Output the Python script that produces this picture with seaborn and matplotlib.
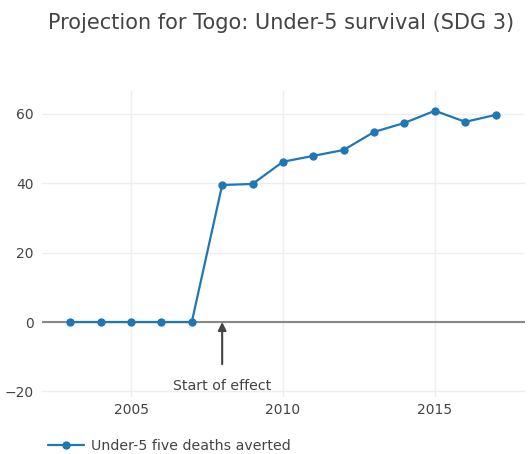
import pandas as pd
import numpy as np
import matplotlib.pyplot as plt
import seaborn as sns

sns.set_style("white")
plt.rcParams["font.family"] = ["DejaVu Sans"]

years = [2003, 2004, 2005, 2006, 2007, 2008, 2009, 2010, 2011, 2012, 2013, 2014, 2015, 2016, 2017]
deaths_averted = [0, 0, 0, 0, 0, 39.5, 39.8, 46.2, 47.9, 49.6, 54.8, 57.4, 60.9, 57.7, 59.7]
series_name = "Under-5 five deaths averted"

df = pd.DataFrame({"Year": years, series_name: deaths_averted})

fig = plt.figure(figsize=(5.28, 4.54), dpi=100)
ax = fig.add_axes([0.0795, 0.1256, 0.9145, 0.674])

sns.lineplot(data=df, x="Year", y=series_name, ax=ax, color="#1f77b4",
             linewidth=1.6, marker="o", markersize=6, markeredgewidth=0,
             label=series_name, zorder=3)

ax.set_xlim(2002.07, 2017.96)
ax.set_ylim(-21.6, 66.6)
ax.set_xticks([2005, 2010, 2015])
ax.set_yticks([-20, 0, 20, 40, 60])
ax.set_yticklabels(["\u221220", "0", "20", "40", "60"])
ax.grid(True, color="#eeeeee", linewidth=1)
ax.axhline(0, color="#888888", linewidth=1.5, zorder=2)
for s in ax.spines.values():
    s.set_visible(False)
ax.tick_params(axis="x", pad=4)
ax.tick_params(axis="y", pad=6)
ax.tick_params(axis="both", length=0, labelsize=10, labelcolor="#444444")
ax.set_xlabel("")
ax.set_ylabel("")

# annotation for the start of the effect
ax.annotate("Start of effect", xy=(2008, 0), xytext=(2008, -18.3),
            ha="center", va="center", fontsize=10.2, color="#444444",
            arrowprops=dict(arrowstyle="-|>", color="#444444", lw=1.5,
                            shrinkA=8, shrinkB=0, mutation_scale=12))

fig.suptitle("Projection for Togo: Under-5 survival (SDG 3)", x=0.532, y=0.972,
             fontsize=15, color="#444444")

leg = ax.legend(loc="upper left", bbox_to_anchor=(-0.0, -0.118), frameon=False,
                fontsize=10.2, handlelength=2.6, handletextpad=0.45, borderaxespad=0)
for t in leg.get_texts():
    t.set_color("#444444")

plt.savefig("out.png", dpi=100)
